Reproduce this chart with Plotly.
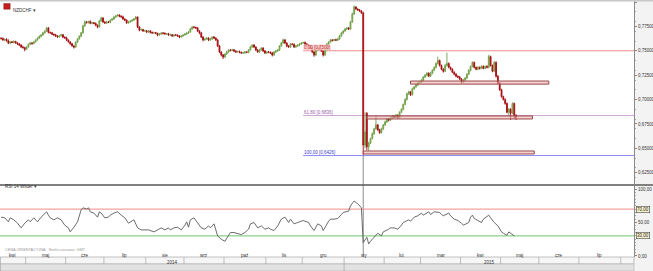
import plotly.graph_objects as go
import pandas as pd

# ---------------- data ----------------
symbol = "NZDCHF"
start_date = "2014-04-11"      # first trading day shown
axis_end_date = "2015-08-31"   # calendar used for the month band

closes = [
    0.7625, 0.7610, 0.7618, 0.7602, 0.7578, 0.7592, 0.7585, 0.7596, 0.7580, 0.7570,
    0.7559, 0.7540, 0.7532, 0.7515, 0.7541, 0.7566, 0.7580, 0.7574, 0.7592, 0.7611,
    0.7630, 0.7648, 0.7662, 0.7684, 0.7700, 0.7733, 0.7690, 0.7684, 0.7670, 0.7663,
    0.7650, 0.7642, 0.7655, 0.7664, 0.7640, 0.7632, 0.7609, 0.7591, 0.7571, 0.7550,
    0.7538, 0.7588, 0.7622, 0.7650, 0.7684, 0.7755, 0.7796, 0.7790, 0.7800, 0.7782,
    0.7788, 0.7780, 0.7762, 0.7744, 0.7806, 0.7836, 0.7796, 0.7784, 0.7797, 0.7791,
    0.7815, 0.7826, 0.7845, 0.7858, 0.7867, 0.7855, 0.7847, 0.7825, 0.7815, 0.7786,
    0.7796, 0.7805, 0.7815, 0.7826, 0.7846, 0.7744, 0.7713, 0.7718, 0.7703, 0.7706,
    0.7692, 0.7703, 0.7690, 0.7682, 0.7686, 0.7679, 0.7662, 0.7672, 0.7682, 0.7680,
    0.7672, 0.7675, 0.7662, 0.7665, 0.7652, 0.7662, 0.7660, 0.7652, 0.7641, 0.7652,
    0.7662, 0.7672, 0.7682, 0.7692, 0.7723, 0.7744, 0.7740, 0.7733, 0.7703, 0.7682,
    0.7641, 0.7611, 0.7621, 0.7631, 0.7611, 0.7621, 0.7641, 0.7631, 0.7611, 0.7549,
    0.7488, 0.7457, 0.7436, 0.7467, 0.7488, 0.7508, 0.7504, 0.7510, 0.7498, 0.7488,
    0.7492, 0.7485, 0.7477, 0.7479, 0.7488, 0.7484, 0.7508, 0.7539, 0.7559, 0.7539,
    0.7508, 0.7488, 0.7508, 0.7529, 0.7498, 0.7477, 0.7488, 0.7485, 0.7477, 0.7457,
    0.7488, 0.7498, 0.7508, 0.7549, 0.7580, 0.7611, 0.7580, 0.7549, 0.7539, 0.7570,
    0.7566, 0.7539, 0.7549, 0.7559, 0.7570, 0.7580, 0.7584, 0.7570, 0.7559, 0.7549,
    0.7529, 0.7488, 0.7457, 0.7508, 0.7539, 0.7518, 0.7498, 0.7457, 0.7508, 0.7570,
    0.7590, 0.7611, 0.7606, 0.7614, 0.7609, 0.7621, 0.7652, 0.7682, 0.7703, 0.7723,
    0.7733, 0.7723, 0.7795, 0.7877, 0.7949, 0.7928, 0.7918, 0.7908, 0.7887, 0.6534,
    0.6667, 0.6515, 0.6555, 0.6600, 0.6650, 0.6700, 0.6740, 0.6690, 0.6660, 0.6700,
    0.6740, 0.6770, 0.6800, 0.6790, 0.6810, 0.6830, 0.6820, 0.6840, 0.6815, 0.6870,
    0.6900, 0.6950, 0.7000, 0.7060, 0.7080, 0.7050, 0.7110, 0.7130, 0.7150, 0.7170,
    0.7180, 0.7200, 0.7230, 0.7250, 0.7270, 0.7240, 0.7270, 0.7300, 0.7330, 0.7370,
    0.7400, 0.7350, 0.7310, 0.7290, 0.7350, 0.7370, 0.7330, 0.7310, 0.7280, 0.7260,
    0.7240, 0.7230, 0.7210, 0.7180, 0.7200, 0.7220, 0.7260, 0.7300, 0.7340, 0.7380,
    0.7330, 0.7310, 0.7330, 0.7320, 0.7340, 0.7320, 0.7340, 0.7330, 0.7440, 0.7350,
    0.7290, 0.7380, 0.7240, 0.7170, 0.7100, 0.7030, 0.7000, 0.6960, 0.6870, 0.6900,
    0.6860, 0.6960, 0.6840, 0.6815,
]
first_open = 0.7630
open_gaps = {201: 0.6860}   # bars whose open differs from the previous close

up_wick_pips = [
    8, 12, 6, 10, 15, 7, 9, 11, 6, 8,   10, 7, 12, 9, 6, 8, 11, 7, 9, 6,
    8, 10, 7, 9, 12, 8, 10, 6, 9, 7,    11, 8, 6, 10, 9, 7, 12, 8, 6, 9,
    7, 10, 8, 6, 9, 12, 15, 10, 8, 11,  9, 7, 10, 8, 12, 14, 9, 7, 10, 8,
    6, 9, 11, 8, 10, 7, 9, 12, 8, 6,    10, 8, 7, 9, 11, 5, 8, 10, 7, 9,
    6, 8, 10, 7, 9, 8, 6, 10, 7, 9,     8, 6, 9, 11, 7, 8, 10, 6, 9, 7,
    8, 10, 7, 9, 12, 10, 8, 6, 9, 7,    10, 8, 6, 9, 7, 11, 8, 10, 6, 8,
    9, 7, 10, 8, 12, 9, 7, 10, 8, 6,    9, 11, 7, 8, 10, 6, 9, 12, 8, 10,
    7, 9, 11, 8, 6, 10, 7, 9, 8, 12,    9, 7, 10, 8, 12, 14, 9, 7, 10, 8,
    6, 9, 11, 8, 10, 7, 9, 12, 8, 6,    10, 8, 7, 9, 11, 8, 10, 6, 9, 8,
    7, 10, 8, 6, 9, 12, 10, 8, 7, 9,    8, 10, 12, 14, 16, 9, 7, 10, 8, 13,
    203, 10, 12, 9, 15, 11, 91, 8, 10, 12, 9, 14, 8, 11, 10, 12, 9, 13, 8, 10,
    12, 9, 14, 10, 11, 8, 12, 9, 10, 13, 8, 11, 9, 12, 10, 9, 13, 10, 8, 12,
    40, 10, 9, 12, 15, 110, 10, 8, 12, 9, 10, 8, 11, 9, 12, 10, 9, 13, 10, 12,
    10, 8, 12, 9, 11, 10, 8, 12, 20, 10, 9, 15, 12, 10, 8, 11, 9, 12, 10, 14,
    10, 12, 9, 8,
]
dn_wick_pips = [
    10, 7, 12, 8, 9, 11, 6, 10, 8, 12,  8, 11, 9, 20, 7, 10, 8, 12, 6, 9,
    7, 9, 11, 8, 10, 6, 12, 8, 9, 11,   8, 10, 7, 9, 12, 8, 10, 7, 11, 9,
    15, 8, 10, 7, 9, 6, 8, 12, 10, 9,   11, 8, 10, 14, 7, 9, 11, 8, 10, 6,
    9, 7, 10, 8, 6, 11, 9, 8, 12, 10,   8, 10, 7, 9, 6, 12, 14, 9, 11, 8,
    10, 8, 12, 9, 7, 10, 14, 8, 9, 11,  7, 10, 8, 12, 9, 11, 7, 10, 12, 8,
    9, 7, 10, 8, 6, 9, 11, 8, 10, 12,   11, 14, 9, 8, 12, 10, 8, 11, 9, 10,
    12, 14, 20, 9, 10, 8, 11, 9, 12, 10, 8, 11, 9, 10, 12, 8, 9, 7, 10, 11,
    12, 9, 10, 8, 11, 9, 12, 10, 8, 15, 9, 11, 8, 10, 7, 9, 11, 12, 8, 10,
    9, 11, 8, 10, 12, 9, 8, 10, 11, 9,  10, 12, 18, 9, 8, 11, 10, 16, 9, 8,
    10, 8, 11, 9, 7, 10, 8, 9, 11, 8,   9, 10, 8, 7, 9, 11, 8, 10, 9, 104,
    34, 35, 40, 10, 8, 12, 9, 11, 10, 8, 12, 9, 10, 14, 8, 11, 9, 10, 12, 8,
    9, 11, 8, 10, 12, 14, 9, 10, 8, 11, 10, 9, 12, 8, 11, 10, 9, 12, 8, 10,
    10, 12, 9, 14, 8, 11, 10, 12, 9, 11, 12, 10, 9, 20, 11, 8, 10, 9, 12, 10,
    11, 9, 10, 12, 8, 10, 9, 11, 10, 12, 10, 9, 14, 12, 10, 11, 9, 13, 12, 35,
    70, 10, 40, 25,
]

# RSI(14, Wilder): bar index -> value
rsi_idx = [0, 2, 4, 5, 7, 9, 11, 13, 15, 16, 18, 20, 22, 24, 25, 26, 27, 29, 31, 33,
           35, 37, 38, 40, 42, 44, 45, 47, 48, 49, 51, 53, 54, 55, 57, 59, 60, 62, 64, 66,
           68, 70, 71, 73, 75, 77, 81, 84, 86, 88, 90, 92, 93, 95, 97, 99, 101, 102, 103, 104,
           106, 108, 110, 112, 114, 115, 117, 119, 121, 123, 125, 126, 128, 130, 132, 134, 136, 137, 139, 141,
           143, 145, 147, 148, 150, 152, 154, 156, 158, 159, 161, 163, 165, 166, 169, 170, 172, 174, 176, 177,
           180, 181, 183, 185, 187, 188, 191, 192, 194, 196, 198, 199, 201, 202, 203, 205, 207, 209, 210, 213,
           214, 216, 218, 220, 221, 224, 225, 227, 229, 231, 232, 235, 236, 238, 241, 242, 243, 246, 247, 249,
           251, 253, 254, 257, 258, 259, 260, 262, 264, 265, 268, 269, 271, 273, 275, 276, 278, 279, 281, 282]
rsi_val = [58, 57, 51, 57, 54, 49, 42, 49, 54, 51, 57, 51, 58, 64, 66, 61, 57, 54, 57, 54,
           46, 42, 36, 43, 51, 69, 72, 70, 72, 66, 64, 58, 66, 64, 57, 58, 61, 64, 66, 61,
           57, 49, 51, 54, 42, 39, 39, 36, 39, 42, 39, 42, 39, 42, 43, 39, 46, 51, 43, 54,
           57, 49, 42, 40, 45, 42, 48, 30, 25, 22, 32, 35, 35, 33, 32, 35, 40, 48, 50, 42,
           45, 40, 42, 40, 38, 45, 55, 58, 50, 55, 48, 50, 52, 53, 50, 45, 38, 48, 45, 38,
           52, 55, 55, 56, 62, 65, 67, 75, 82, 78, 72, 20, 28, 18, 22, 28, 34, 30, 36, 40,
           42, 42, 40, 46, 50, 54, 52, 58, 60, 64, 61, 66, 62, 66, 65, 62, 60, 64, 60, 55,
           53, 49, 46, 50, 58, 61, 56, 53, 50, 55, 61, 57, 50, 45, 36, 34, 31, 36, 31, 30]

price_ticks = [0.625, 0.650, 0.675, 0.700, 0.725, 0.750, 0.775, 0.800]
rsi_ticks = [0, 50, 100]
rsi_bands = [70, 30]

fib_anchor_hi = 0.7500
fib_anchor_lo = 0.6426
fib_pcts = [0.0, 61.8, 100.0]
fib_start_idx = 166
marker_idx = 199            # 15 Jan 2015 (SNB day)

zone_start = [225, 201, 199]
zone_end = [301, 292, 293]
zone_lo = [0.7158, 0.6801, 0.6442]
zone_hi = [0.7190, 0.6832, 0.6473]

month_names = ["sty", "lut", "mar", "kwi", "maj", "cze", "lip", "sie", "wrz", "paź", "lis", "gru"]

# ---------------- build ----------------
n = len(closes)
x = list(range(n))
opens = [first_open] + closes[:-1]
for k, v in open_gaps.items():
    opens[k] = v
highs = [max(o, c) + u / 10000 for o, c, u in zip(opens, closes, up_wick_pips)]
lows = [min(o, c) - d / 10000 for o, c, d in zip(opens, closes, dn_wick_pips)]

X_MIN, X_MAX = -0.6, 347.8
Y_MIN, Y_MAX = 0.61345, 0.80103
R_MIN, R_MAX = -1.5, 104.5
MAIN_DOM = [0.2852, 1.0]
RSI_DOM = [0.0, 0.2773]
FONT = "Liberation Sans, Arial, sans-serif"

fig = go.Figure()
fig.add_trace(go.Candlestick(
    x=x, open=opens, high=highs, low=lows, close=closes,
    increasing=dict(fillcolor="#8cc84b", line=dict(color="#6f9e48", width=0.9)),
    decreasing=dict(fillcolor="#d7000f", line=dict(color="#a30d12", width=0.9)),
    whiskerwidth=0, xaxis="x", yaxis="y", showlegend=False, hoverinfo="skip"))

fig.add_trace(go.Scatter(x=rsi_idx, y=rsi_val, mode="lines",
                         line=dict(color="#5a5a5a", width=0.9),
                         xaxis="x", yaxis="y2", showlegend=False, hoverinfo="skip"))

shapes = []
annotations = []

# fib lines
fib_colors = ["#f08a8a", "#cfa6d6", "#8a8af2"]
fib_text_colors = ["#c03030", "#9a5aa8", "#4040c8"]
for p, col, tcol in zip(fib_pcts, fib_colors, fib_text_colors):
    lvl = fib_anchor_hi - p / 100 * (fib_anchor_hi - fib_anchor_lo)
    shapes.append(dict(type="line", xref="x", yref="y", x0=fib_start_idx, x1=X_MAX,
                       y0=lvl, y1=lvl, line=dict(color=col, width=1), layer="below"))
    label = f"{p:.2f} [{lvl:.4f}]".replace(".", ",")
    annotations.append(dict(xref="x", yref="y", x=fib_start_idx, y=lvl, text=label,
                            xanchor="left", yanchor="bottom", showarrow=False,
                            font=dict(size=4.5, color=tcol, family=FONT),
                            bgcolor="rgba(250,200,200,0.8)" if p == 0 else None,
                            borderpad=0))

# zones
for xs, xe, lo, hi in zip(zone_start, zone_end, zone_lo, zone_hi):
    shapes.append(dict(type="rect", xref="x", yref="y", x0=xs, x1=xe, y0=lo, y1=hi,
                       fillcolor="rgba(240,170,170,0.55)",
                       line=dict(color="#9a4a4a", width=1)))

# vertical marker line
frac = MAIN_DOM[0] + (lows[marker_idx] - Y_MIN) / (Y_MAX - Y_MIN) * (MAIN_DOM[1] - MAIN_DOM[0])
shapes.append(dict(type="line", xref="x", yref="paper", x0=marker_idx, x1=marker_idx,
                   y0=0, y1=frac, line=dict(color="#8c8c8c", width=1), layer="below"))

# RSI bands
band_cols = ["#f08a8a", "#6cc46c"]
for b, col in zip(rsi_bands, band_cols):
    shapes.append(dict(type="line", xref="paper", yref="y2", x0=0, x1=1, y0=b, y1=b,
                       line=dict(color=col, width=1), layer="below"))
    annotations.append(dict(xref="paper", yref="y2", x=1, y=b, xanchor="left", xshift=2,
                            text=f"{b:.2f}".replace(".", ","), showarrow=False,
                            font=dict(size=4.5, color="#222", family=FONT),
                            bgcolor="#fbf6cf", bordercolor="#444", borderwidth=0.6, borderpad=0.5))

# panel divider
shapes.append(dict(type="line", xref="paper", yref="paper", x0=0, x1=1.03,
                   y0=0.2812, y1=0.2812, line=dict(color="#5a5a5a", width=1.5)))
# top strip
shapes.append(dict(type="line", xref="paper", yref="paper", x0=0, x1=1.03,
                   y0=1.002, y1=1.002, line=dict(color="#c8c8c8", width=2)))

# month / year band under the chart
ROW1_TOP, ROW1_BOT, ROW2_BOT = 0.0, -0.0273, -0.0547
shapes.append(dict(type="rect", xref="paper", yref="paper", x0=0, x1=1, y0=ROW1_BOT, y1=ROW1_TOP,
                   fillcolor="#f6f6f6", line=dict(color="#9a9a9a", width=0.6)))
shapes.append(dict(type="rect", xref="paper", yref="paper", x0=0, x1=1, y0=ROW2_BOT, y1=ROW1_BOT,
                   fillcolor="#e2e2e2", line=dict(color="#b0b0b0", width=0.6)))

days = pd.bdate_range(start_date, axis_end_date)
pos = pd.Series(range(len(days)), index=days)
for (yr, mo), grp in pos.groupby([days.year, days.month]):
    a, b = grp.iloc[0] - 0.5, grp.iloc[-1] + 0.5
    if a > X_MAX:
        continue
    if a > X_MIN:
        shapes.append(dict(type="line", xref="x", yref="paper", x0=a, x1=a,
                           y0=ROW1_BOT, y1=ROW1_TOP, line=dict(color="#9a9a9a", width=0.6)))
    lo_, hi_ = max(a, X_MIN), min(b, X_MAX)
    if hi_ - lo_ > 10:
        annotations.append(dict(xref="x", yref="paper", x=(lo_ + hi_) / 2, y=(ROW1_TOP + ROW1_BOT) / 2,
                                text=month_names[mo - 1], showarrow=False,
                                font=dict(size=4.5, color="#333", family=FONT)))
for yr, grp in pos.groupby(days.year):
    a, b = grp.iloc[0] - 0.5, grp.iloc[-1] + 0.5
    if a > X_MIN:
        shapes.append(dict(type="line", xref="x", yref="paper", x0=a, x1=a,
                           y0=ROW2_BOT, y1=ROW1_BOT, line=dict(color="#9a9a9a", width=0.6)))
    lo_, hi_ = max(a, X_MIN), min(b, X_MAX)
    annotations.append(dict(xref="x", yref="paper", x=(lo_ + hi_) / 2, y=(ROW1_BOT + ROW2_BOT) / 2,
                            text=str(yr), showarrow=False,
                            font=dict(size=4.5, color="#333", family=FONT)))

# header labels
shapes.append(dict(type="rect", xref="paper", yref="paper", x0=0.006, x1=0.016,
                   y0=0.968, y1=0.990, fillcolor="#c81e1e", line=dict(color="#7a1010", width=0.5)))
annotations.append(dict(xref="paper", yref="paper", x=0.018, y=0.979, xanchor="left",
                        text=symbol + " ▾", showarrow=False,
                        font=dict(size=4.5, color="#333", family=FONT)))
annotations.append(dict(xref="paper", yref="paper", x=0.005, y=0.258, xanchor="left",
                        text="RSI 14 Wilder ▾", showarrow=False,
                        font=dict(size=4.5, color="#333", family=FONT)))
annotations.append(dict(xref="paper", yref="paper", x=0.005, y=0.012, xanchor="left",
                        text="CENA ORIENTACYJNA   Strefa czasowa: GMT", showarrow=False,
                        font=dict(size=3.8, color="#999", family=FONT)))

fig.update_layout(
    width=653, height=271,
    margin=dict(l=0, r=19, t=1, b=14, autoexpand=False),
    paper_bgcolor="#f3f3f3", plot_bgcolor="#ffffff",
    font=dict(family=FONT, size=5, color="#333"),
    showlegend=False,
    shapes=shapes, annotations=annotations,
    xaxis=dict(range=[X_MIN, X_MAX], showgrid=False, zeroline=False, automargin=False,
               showticklabels=False, ticks="", showline=False,
               rangeslider=dict(visible=False), anchor="y2"),
    yaxis=dict(domain=MAIN_DOM, range=[Y_MIN, Y_MAX], side="right", automargin=False,
               tickvals=price_ticks,
               ticktext=[f"{v:.5f}".replace(".", ",") for v in price_ticks],
               ticks="outside", ticklen=2, tickcolor="#888",
               minor=dict(ticks="outside", ticklen=1, tickcolor="#aaa", nticks=6),
               showline=True, linecolor="#8a8a8a", linewidth=1, mirror=False,
               showgrid=False, zeroline=False,
               tickfont=dict(size=4.5, color="#333", family=FONT)),
    yaxis2=dict(domain=RSI_DOM, range=[R_MIN, R_MAX], side="right", automargin=False,
                tickvals=rsi_ticks,
                ticktext=[f"{v:.2f}".replace(".", ",") for v in rsi_ticks],
                ticks="outside", ticklen=2, tickcolor="#888",
                minor=dict(ticks="outside", ticklen=1, tickcolor="#aaa", nticks=6),
                showline=True, linecolor="#8a8a8a", linewidth=1,
                showgrid=False, zeroline=False, anchor="x",
                tickfont=dict(size=4.5, color="#333", family=FONT)),
)

fig.write_html("out.html")
